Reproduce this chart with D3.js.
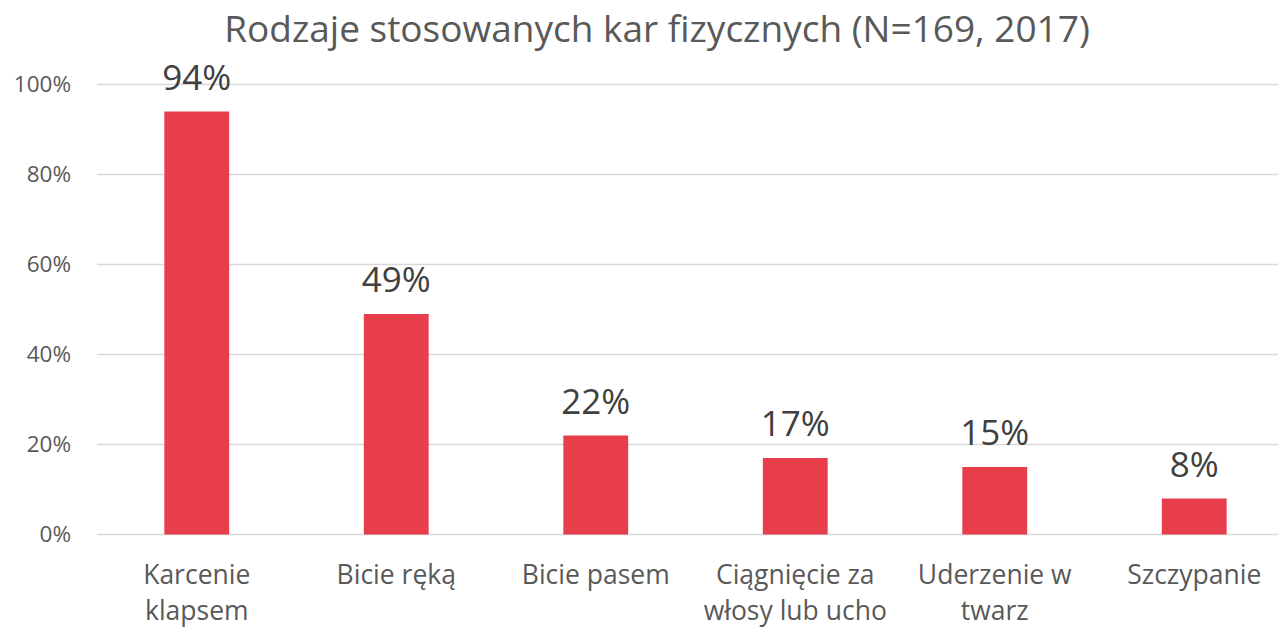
<!DOCTYPE html>
<html>
<head>
<meta charset="utf-8">
<script src="https://cdn.jsdelivr.net/npm/d3@7"></script>
<style>
  body { margin: 0; background: #fff; }
  svg { display: block; font-family: "Open Sans", Lato, sans-serif; }
</style>
</head>
<body>
<svg id="chart" width="1278" height="631"></svg>
<script>
var title = "Rodzaje stosowanych kar fizycznych (N=169, 2017)";
var categories = [
  ["Karcenie", "klapsem"],
  ["Bicie ręką"],
  ["Bicie pasem"],
  ["Ciągnięcie za", "włosy lub ucho"],
  ["Uderzenie w", "twarz"],
  ["Szczypanie"]
];
var values = [0.94, 0.49, 0.22, 0.17, 0.15, 0.08];
var yTicks = [0, 0.2, 0.4, 0.6, 0.8, 1.0];

var svg = d3.select("#chart");

var x = d3.scaleBand()
  .domain(d3.range(values.length))
  .range([97, 1294])
  .paddingInner(0.675)
  .paddingOuter(0.3375);

var y = d3.scaleLinear()
  .domain([0, 1])
  .range([534.5, 84.5]);

// gridlines
svg.append("g")
  .selectAll("line")
  .data(yTicks)
  .join("line")
  .attr("x1", 97)
  .attr("x2", 1294)
  .attr("y1", function(d) { return y(d); })
  .attr("y2", function(d) { return y(d); })
  .attr("stroke", "#d9d9d9")
  .attr("stroke-width", 1.5);

// y axis labels
var yAxis = d3.axisLeft(y)
  .tickValues(yTicks)
  .tickFormat(d3.format(".0%"))
  .tickSize(0)
  .tickPadding(26);
var ya = svg.append("g")
  .attr("transform", "translate(97,0)")
  .call(yAxis);
ya.select(".domain").remove();
ya.selectAll("text")
  .attr("fill", "#595959")
  .attr("font-size", 22.5)
  .attr("font-family", "'Open Sans', Lato, sans-serif");

// bars
svg.append("g")
  .selectAll("rect")
  .data(values)
  .join("rect")
  .attr("x", function(d, i) { return x(i); })
  .attr("width", x.bandwidth())
  .attr("y", function(d) { return y(d); })
  .attr("height", function(d) { return y(0) - y(d); })
  .attr("fill", "#e83e4c");

// data labels
svg.append("g")
  .selectAll("text")
  .data(values)
  .join("text")
  .attr("x", function(d, i) { return x(i) + x.bandwidth() / 2; })
  .attr("y", function(d) { return y(d) - 22; })
  .attr("text-anchor", "middle")
  .attr("font-size", 35)
  .attr("fill", "#404040")
  .text(function(d) { return Math.round(d * 100) + "%"; });

// category labels, one text per line
var cat = svg.append("g")
  .selectAll("g")
  .data(categories)
  .join("g")
  .attr("transform", function(d, i) { return "translate(" + (x(i) + x.bandwidth() / 2) + ",0)"; });
cat.selectAll("text")
  .data(function(d) { return d; })
  .join("text")
  .attr("y", function(d, i) { return 584 + i * 36; })
  .attr("text-anchor", "middle")
  .attr("font-size", 26.5)
  .attr("fill", "#595959")
  .text(function(d) { return d; });

// title
svg.append("text")
  .attr("x", 657)
  .attr("y", 42)
  .attr("text-anchor", "middle")
  .attr("font-size", 37)
  .attr("fill", "#595959")
  .text(title);
</script>
</body>
</html>
